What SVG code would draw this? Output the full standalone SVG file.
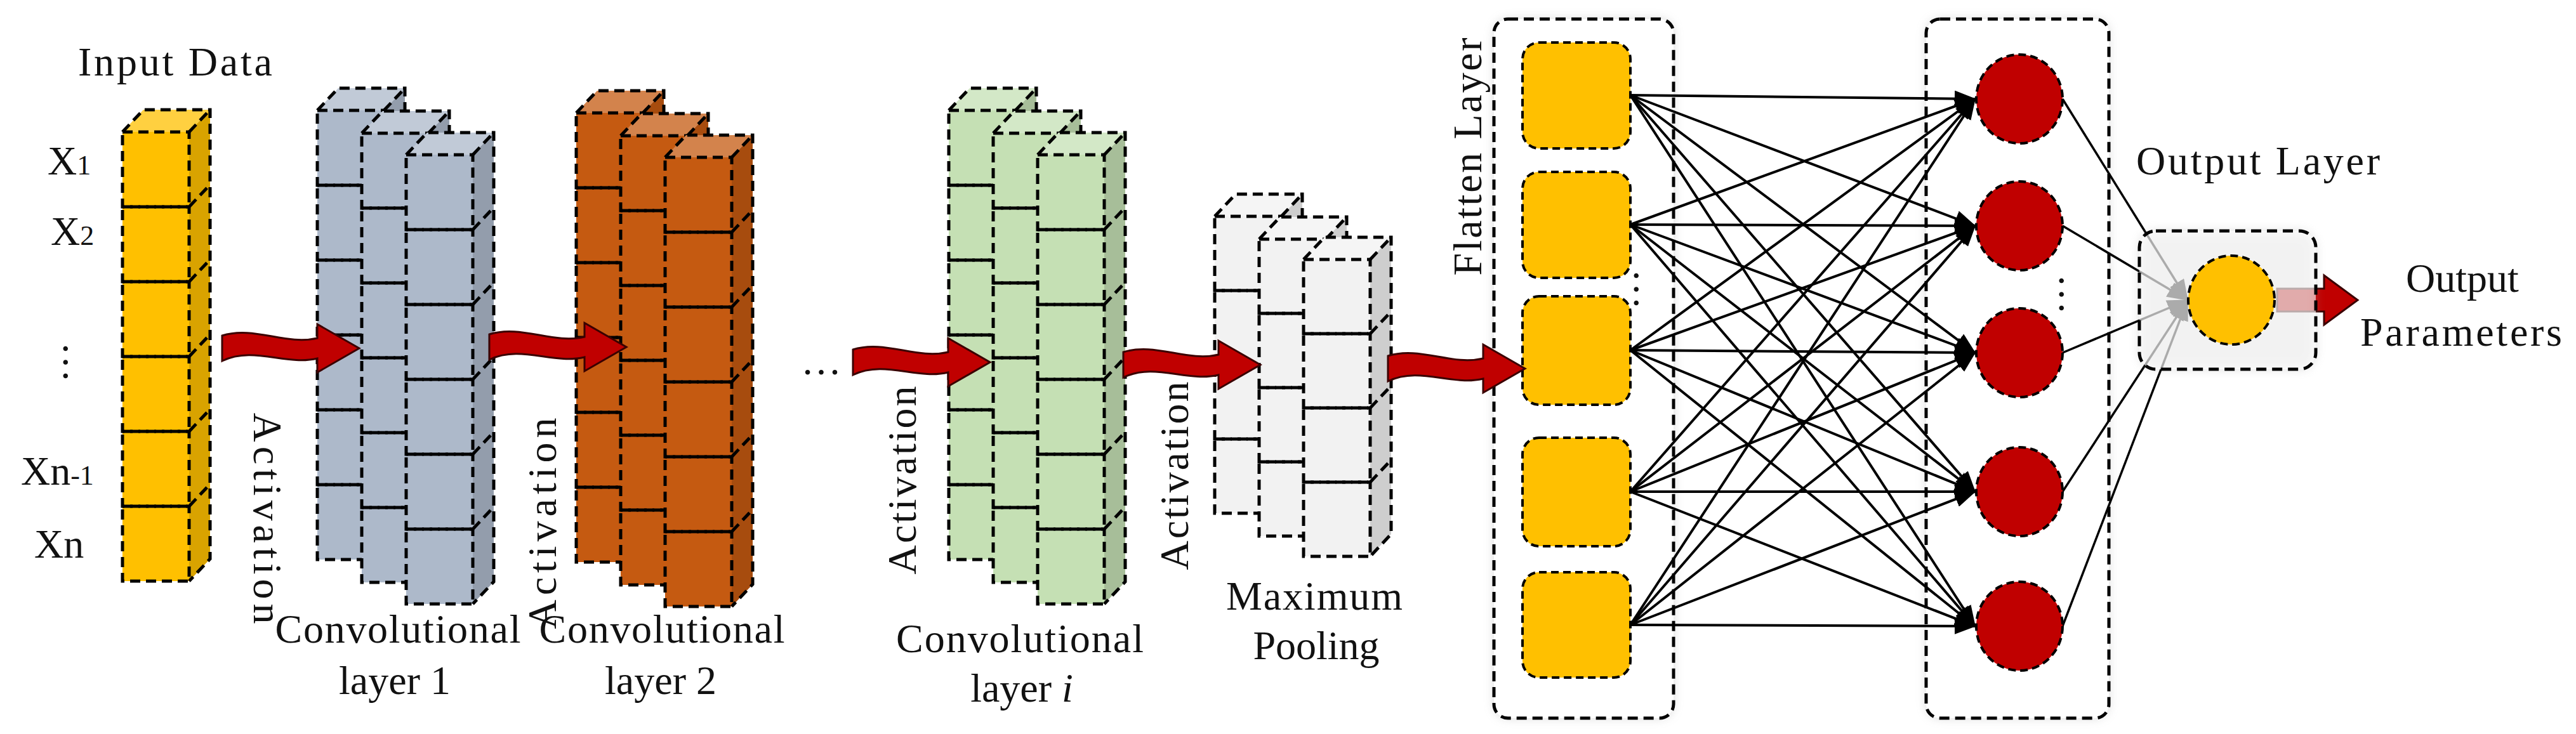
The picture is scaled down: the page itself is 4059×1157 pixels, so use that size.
<svg xmlns="http://www.w3.org/2000/svg" xmlns:xlink="http://www.w3.org/1999/xlink" width="4059" height="1157" viewBox="0 0 4059 1157">
<style>
.d{stroke:#000;stroke-width:5;stroke-dasharray:16 9;fill:none}
.t{font-family:"Liberation Serif","DejaVu Serif",serif;fill:#111;font-size:64px}
.ln{stroke:#000;stroke-width:4;fill:none}
.arr{fill:#C00000;stroke:#3a0000;stroke-width:3}
</style>
<defs>
<filter id="sh" x="-20%" y="-20%" width="140%" height="140%"><feGaussianBlur stdDeviation="8"/></filter>
<marker id="ah" markerUnits="userSpaceOnUse" markerWidth="34" markerHeight="26" refX="32" refY="13" orient="auto"><path d="M0,0 L34,13 L0,26 Z" fill="#000"/></marker>
<path id="wa" d="M0,-20 C50,-36 100,-4 150,-16 L150,-38 L216,0 L150,38 L150,16 C100,28 50,-4 0,20 Z"/>
<g id="col6">
<polygon points="0,0 33,-35 138,-35 105,0"/>
<polygon points="0,0 33,-35 138,-35 105,0" fill="#fff" fill-opacity="0.25"/>
<polygon points="105,0 138,-35 138,673 105,708"/>
<polygon points="105,0 138,-35 138,673 105,708" fill="#000" fill-opacity="0.15"/>
<rect x="0" y="0" width="105" height="708"/>
<polyline class="d" points="0,0 33,-35 138,-35 138,673 105,708"/>
<path class="d" d="M105,0 L138,-35 M105,118 L138,83 M105,236 L138,201 M105,354 L138,319 M105,472 L138,437 M105,590 L138,555"/>
<rect class="d" x="0" y="0" width="105" height="118"/><rect class="d" x="0" y="118" width="105" height="118"/><rect class="d" x="0" y="236" width="105" height="118"/><rect class="d" x="0" y="354" width="105" height="118"/><rect class="d" x="0" y="472" width="105" height="118"/><rect class="d" x="0" y="590" width="105" height="118"/>
</g>
<g id="col4">
<polygon points="0,0 33,-35 138,-35 105,0"/>
<polygon points="0,0 33,-35 138,-35 105,0" fill="#fff" fill-opacity="0.25"/>
<polygon points="105,0 138,-35 138,433 105,468"/>
<polygon points="105,0 138,-35 138,433 105,468" fill="#000" fill-opacity="0.15"/>
<rect x="0" y="0" width="105" height="468"/>
<polyline class="d" points="0,0 33,-35 138,-35 138,433 105,468"/>
<path class="d" d="M105,0 L138,-35 M105,117 L138,82 M105,234 L138,199 M105,351 L138,316"/>
<rect class="d" x="0" y="0" width="105" height="117"/><rect class="d" x="0" y="117" width="105" height="117"/><rect class="d" x="0" y="234" width="105" height="117"/><rect class="d" x="0" y="351" width="105" height="117"/>
</g>
<g id="stack6"><use xlink:href="#col6"/><use xlink:href="#col6" x="70" y="36"/><use xlink:href="#col6" x="140" y="70"/></g>
<g id="stack4"><use xlink:href="#col4"/><use xlink:href="#col4" x="70" y="36"/><use xlink:href="#col4" x="140" y="68"/></g>
</defs>
<rect width="4059" height="1157" fill="#fff"/>

<g id="input">
<use xlink:href="#col6" x="193" y="208" fill="#FFC000"/>
<text class="t" x="123" y="119" font-size="58" textLength="306">Input Data</text>
<text class="t" x="75" y="275" font-size="62">X<tspan font-size="44">1</tspan></text>
<text class="t" x="80" y="386" font-size="62">X<tspan font-size="44">2</tspan></text>
<text class="t" x="103" y="560" font-size="56" transform="rotate(90 112 548)">…</text>
<text class="t" x="33" y="764" font-size="62">Xn<tspan font-size="44">-1</tspan></text>
<text class="t" x="54" y="879" font-size="62">Xn</text>
</g>

<g id="conv1">
<use xlink:href="#stack6" x="500" y="174" fill="#ADB9CA"/>
<text class="t" x="627" y="1013" text-anchor="middle" textLength="387">Convolutional</text>
<text class="t" x="622" y="1094" text-anchor="middle">layer 1</text>
</g>
<g id="conv2">
<use xlink:href="#stack6" x="908" y="178" fill="#C55A11"/>
<text class="t" x="1043" y="1013" text-anchor="middle" textLength="387">Convolutional</text>
<text class="t" x="1041" y="1094" text-anchor="middle">layer 2</text>
</g>
<g id="convi">
<use xlink:href="#stack6" x="1495" y="174" fill="#C5E0B4"/>
<text class="t" x="1607" y="1028" text-anchor="middle" textLength="390">Convolutional</text>
<text class="t" x="1610" y="1106" text-anchor="middle">layer <tspan font-style="italic">i</tspan></text>
</g>
<g id="pool">
<use xlink:href="#stack4" x="1914" y="341" fill="#F2F2F2"/>
<text class="t" x="2071" y="961" text-anchor="middle" textLength="278">Maximum</text>
<text class="t" x="2074" y="1039" text-anchor="middle">Pooling</text>
</g>

<g id="activations">
<text class="t" transform="translate(421,817) rotate(90)" text-anchor="middle" dominant-baseline="central" textLength="333">Activation</text>
<text class="t" transform="translate(854,825) rotate(-90)" text-anchor="middle" dominant-baseline="central" textLength="333">Activation</text>
<text class="t" transform="translate(1421,757) rotate(-90)" text-anchor="middle" dominant-baseline="central" textLength="297">Activation</text>
<text class="t" transform="translate(1850,750) rotate(-90)" text-anchor="middle" dominant-baseline="central" textLength="297">Activation</text>
<text class="t" x="1262" y="590" font-size="56">…</text>
</g>

<g id="flatten">
<rect x="2354" y="30" width="283" height="1102" rx="22" fill="#999" opacity="0.35" filter="url(#sh)"/>
<rect x="2354" y="30" width="283" height="1102" rx="22" fill="#fff" class="d" style="fill:#fff"/>
<text class="t" transform="translate(2312,247) rotate(-90)" text-anchor="middle" dominant-baseline="central" textLength="375">Flatten Layer</text>
<g fill="#FFC000">
<rect x="2399" y="67" width="170" height="167" rx="26"/><rect x="2399" y="271" width="170" height="167" rx="26"/><rect x="2399" y="467" width="170" height="171" rx="26"/><rect x="2399" y="690" width="170" height="171" rx="26"/><rect x="2399" y="902" width="170" height="166" rx="26"/>
</g>
<g class="d" style="stroke-width:4;stroke-dasharray:12 7">
<rect x="2399" y="67" width="170" height="167" rx="26"/><rect x="2399" y="271" width="170" height="167" rx="26"/><rect x="2399" y="467" width="170" height="171" rx="26"/><rect x="2399" y="690" width="170" height="171" rx="26"/><rect x="2399" y="902" width="170" height="166" rx="26"/>
</g>
<text class="t" font-size="50" transform="translate(2596,456) rotate(90)" text-anchor="middle" dominant-baseline="central">…</text>
</g>

<g id="hidden">
<rect x="3035" y="30" width="288" height="1102" rx="22" fill="#999" opacity="0.35" filter="url(#sh)"/>
<rect x="3035" y="30" width="288" height="1102" rx="22" class="d" style="fill:#fff"/>
</g>

<g id="connectors">
<g class="ln" marker-end="url(#ah)">
<path d="M2569,150 L3112,156"/><path d="M2569,150 L3112,356"/><path d="M2569,150 L3112,556"/><path d="M2569,150 L3112,775"/><path d="M2569,150 L3112,987"/>
<path d="M2569,354 L3112,156"/><path d="M2569,354 L3112,356"/><path d="M2569,354 L3112,556"/><path d="M2569,354 L3112,775"/><path d="M2569,354 L3112,987"/>
<path d="M2569,552 L3112,156"/><path d="M2569,552 L3112,356"/><path d="M2569,552 L3112,556"/><path d="M2569,552 L3112,775"/><path d="M2569,552 L3112,987"/>
<path d="M2569,775 L3112,156"/><path d="M2569,775 L3112,356"/><path d="M2569,775 L3112,556"/><path d="M2569,775 L3112,775"/><path d="M2569,775 L3112,987"/>
<path d="M2569,985 L3112,156"/><path d="M2569,985 L3112,356"/><path d="M2569,985 L3112,556"/><path d="M2569,985 L3112,775"/><path d="M2569,985 L3112,987"/>
</g>
<g class="ln" style="stroke-width:3.5" marker-end="url(#ah)">
<path d="M3250,156 L3447,473"/><path d="M3250,356 L3447,473"/><path d="M3250,556 L3447,473"/><path d="M3250,775 L3447,473"/><path d="M3250,987 L3447,473"/>
</g>
<g class="arr">
<use xlink:href="#wa" x="350" y="549"/>
<use xlink:href="#wa" x="771" y="547"/>
<use xlink:href="#wa" x="1344" y="571"/>
<use xlink:href="#wa" x="1770" y="575"/>
<use xlink:href="#wa" x="2187" y="581"/>
<path d="M3588,455 L3662,455 L3662,434 L3715,473 L3662,512 L3662,491 L3588,491 Z"/>
</g>
</g>

<g id="hiddenNodes">
<g fill="#C00000"><ellipse cx="3182" cy="156" rx="68" ry="70"/><ellipse cx="3182" cy="356" rx="68" ry="70"/><ellipse cx="3182" cy="556" rx="68" ry="70"/><ellipse cx="3182" cy="775" rx="68" ry="70"/><ellipse cx="3182" cy="987" rx="68" ry="70"/></g>
<g class="d" style="stroke-width:4;stroke-dasharray:12 7"><ellipse cx="3182" cy="156" rx="68" ry="70"/><ellipse cx="3182" cy="356" rx="68" ry="70"/><ellipse cx="3182" cy="556" rx="68" ry="70"/><ellipse cx="3182" cy="775" rx="68" ry="70"/><ellipse cx="3182" cy="987" rx="68" ry="70"/></g>
<text class="t" font-size="50" transform="translate(3266,464) rotate(90)" text-anchor="middle" dominant-baseline="central">…</text>
</g>

<g id="output">
<rect x="3371" y="364" width="278" height="218" rx="26" fill="#999" opacity="0.3" filter="url(#sh)"/>
<rect x="3371" y="364" width="278" height="218" rx="26" class="d" style="fill:#fff;fill-opacity:0.6"/>
<ellipse cx="3516" cy="473" rx="68" ry="70" fill="#FFC000"/>
<ellipse cx="3516" cy="473" rx="68" ry="70" class="d" style="stroke-width:4;stroke-dasharray:12 7"/>
<text class="t" x="3558" y="275" text-anchor="middle" textLength="384">Output Layer</text>
<text class="t" x="3880" y="460" text-anchor="middle">Output</text>
<text class="t" x="3878" y="545" text-anchor="middle" textLength="318">Parameters</text>
</g>
</svg>
